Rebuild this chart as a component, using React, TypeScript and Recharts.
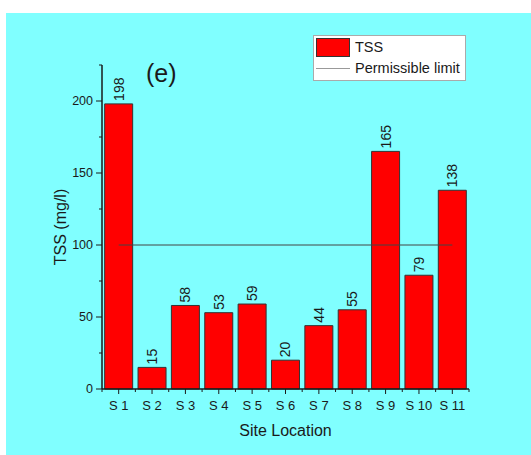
import { ComposedChart, Bar, XAxis, YAxis, ReferenceLine, LabelList } from "recharts";

const sites = ["S 1", "S 2", "S 3", "S 4", "S 5", "S 6", "S 7", "S 8", "S 9", "S 10", "S 11"];
const tssValues = [198, 15, 58, 53, 59, 20, 44, 55, 165, 79, 138];
const yTicks = [0, 25, 50, 75, 100, 125, 150, 175, 200, 225];
const majorYTicks = [0, 50, 100, 150, 200];
const permissibleLimit = 100;

const data = sites.map((site, i) => ({ site, tss: tssValues[i] }));

const W = 531;
const H = 455;
const Y_AXIS_W = 40;
const X_AXIS_H = 30;
const margin = { top: 65, right: 62, bottom: 36, left: 62 };
const band = (W - margin.left - margin.right - Y_AXIS_W) / sites.length;

const ink = "#1a1a1a";
const font = "'Liberation Sans', Arial, sans-serif";

function YTick({ x, y, payload }: any) {
  const major = majorYTicks.includes(payload.value);
  return (
    <g>
      <line x1={x} x2={x - (major ? 6 : 3)} y1={y} y2={y} stroke={ink} strokeWidth={1} />
      {major && (
        <text x={x - 9} y={y} dy={4} textAnchor="end" fontSize={12.5} fill={ink} fontFamily={font}>
          {payload.value}
        </text>
      )}
    </g>
  );
}

function XTick({ x, y, payload, index }: any) {
  return (
    <g>
      <line x1={x} x2={x} y1={y} y2={y + 5} stroke={ink} />
      <line x1={x - band / 2} x2={x - band / 2} y1={y} y2={y + 3} stroke={ink} />
      {index === sites.length - 1 && (
        <line x1={x + band / 2} x2={x + band / 2} y1={y} y2={y + 3} stroke={ink} />
      )}
      <text x={x} y={y + 21} textAnchor="middle" fontSize={13} fill={ink} fontFamily={font}>
        {payload.value}
      </text>
    </g>
  );
}

function ValueLabel({ x, y, width, value }: any) {
  const cx = x + width / 2 + 5;
  const cy = y - 3;
  return (
    <text x={cx} y={cy} transform={`rotate(-90 ${cx} ${cy})`} fontSize={14} fill={ink} fontFamily={font}>
      {value}
    </text>
  );
}

function LegendBox() {
  return (
    <div
      style={{
        position: "absolute",
        left: 313,
        top: 35,
        width: 153,
        boxSizing: "border-box",
        background: "#fff",
        border: "1px solid #aaa",
        fontFamily: font,
        fontSize: 14.5,
        color: ink,
        padding: "1px 2px",
        lineHeight: "21px",
      }}
    >
      <div style={{ display: "flex", alignItems: "center" }}>
        <span style={{ width: 34, height: 19, background: "#ff0000", border: "1px solid #333", marginRight: 5, boxSizing: "border-box" }} />
        TSS
      </div>
      <div style={{ display: "flex", alignItems: "center" }}>
        <span style={{ width: 34, height: 0, borderTop: "1px solid #999", marginRight: 5 }} />
        Permissible limit
      </div>
    </div>
  );
}

export default function App() {
  return (
    <div style={{ position: "absolute", left: 0, top: 0, width: W, height: H, background: "#fff" }}>
      <div style={{ position: "absolute", left: 6, top: 13, right: 0, bottom: 0, background: "#80ffff" }} />
      <div style={{ position: "absolute", left: 0, top: 0 }}>
        <ComposedChart width={W} height={H} data={data} margin={margin} barCategoryGap="8%">
          <XAxis
            dataKey="site"
            height={X_AXIS_H}
            tickSize={0}
            tickMargin={0}
            tickLine={false}
            axisLine={{ stroke: ink, strokeWidth: 1.5 }}
            tick={<XTick />}
            interval={0}
            label={{ value: "Site Location", position: "insideBottom", offset: -17, fontSize: 16, fill: ink, fontFamily: font }}
          />
          <YAxis
            width={Y_AXIS_W}
            domain={[0, 225]}
            ticks={yTicks}
            tickSize={0}
            tickMargin={0}
            tickLine={false}
            axisLine={{ stroke: ink, strokeWidth: 1.5 }}
            tick={<YTick />}
            interval={0}
            label={{ value: "TSS (mg/l)", angle: -90, position: "insideLeft", offset: -2, fontSize: 16, fill: ink, fontFamily: font, style: { textAnchor: "middle" } }}
          />
          <Bar dataKey="tss" name="TSS" fill="#ff0000" stroke="#333" strokeWidth={1} isAnimationActive={false}>
            <LabelList dataKey="tss" content={<ValueLabel />} />
          </Bar>
          <ReferenceLine
            segment={[
              { x: sites[0], y: permissibleLimit },
              { x: sites[sites.length - 1], y: permissibleLimit },
            ]}
            stroke="#444"
            strokeWidth={1}
          />
        </ComposedChart>
      </div>
      <LegendBox />
      <div style={{ position: "absolute", left: 146, top: 59, fontSize: 25, fontFamily: font, color: ink }}>(e)</div>
    </div>
  );
}
